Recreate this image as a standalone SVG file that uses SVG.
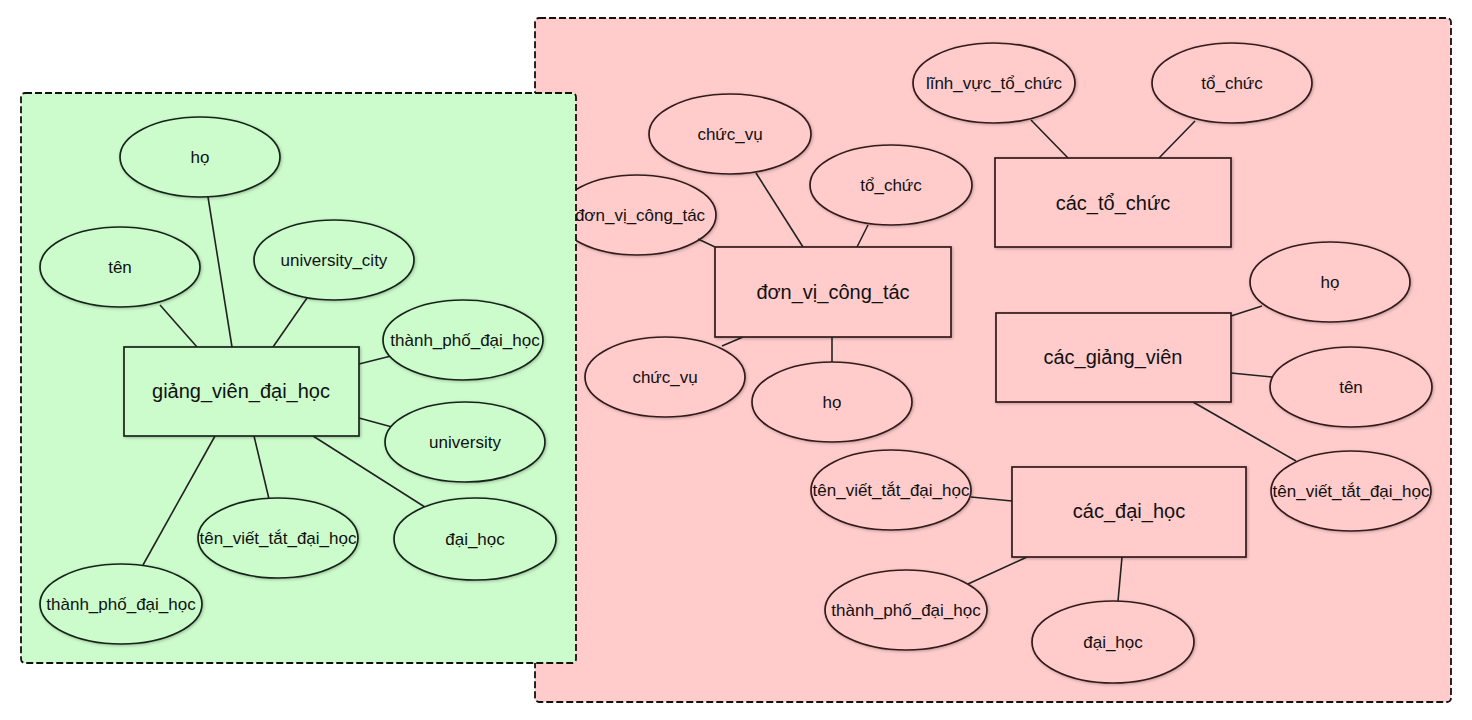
<svg xmlns="http://www.w3.org/2000/svg" width="1472" height="720" viewBox="0 0 1472 720">
<defs>
<filter id="sh" x="-20%" y="-20%" width="140%" height="140%">
<feDropShadow dx="1" dy="1" stdDeviation="1.5" flood-color="#000" flood-opacity="0.25"/>
</filter>
<style>
.panel{stroke:#111;stroke-width:1.8;stroke-dasharray:7 3}
.pg{fill:#ccfccb}
.pp{fill:#ffcbcb}
.g ellipse,.g rect{fill:#ccfccb;stroke:#16241a;stroke-width:1.7;filter:url(#sh)}
.p ellipse,.p rect{fill:#ffcbcb;stroke:#331a1a;stroke-width:1.7;filter:url(#sh)}
.t{font-family:"Liberation Sans",Arial,sans-serif;font-size:17px;fill:#111;text-anchor:middle;dominant-baseline:central}
.tb{font-family:"Liberation Sans",Arial,sans-serif;font-size:20px;fill:#111;text-anchor:middle;dominant-baseline:central}
#connectors line{stroke:#222;stroke-width:1.6}
</style>
</defs>
<rect width="1472" height="720" fill="#fff"/>
<g id="panel-pink"><rect class="panel pp" x="535" y="18" width="916" height="684" rx="4"/></g>
<g id="p-e-donvi" class="p"><ellipse cx="637" cy="215" rx="79" ry="40"/><text class="t" x="640" y="215">đơn_vị_công_tác</text></g>
<g id="panel-green"><rect class="panel pg" x="21" y="93" width="555" height="570" rx="4"/></g>
<g id="connectors">
<line x1="208" y1="197" x2="232" y2="347"/>
<line x1="160" y1="305" x2="197" y2="347"/>
<line x1="307" y1="298" x2="273" y2="347"/>
<line x1="359" y1="364" x2="391" y2="356"/>
<line x1="359" y1="418" x2="392" y2="427"/>
<line x1="313" y1="436" x2="428" y2="509"/>
<line x1="254" y1="436" x2="269" y2="499"/>
<line x1="215" y1="436" x2="143" y2="565"/>
<line x1="756" y1="173" x2="803" y2="247"/>
<line x1="868" y1="225" x2="857" y2="247"/>
<line x1="698" y1="239" x2="715" y2="247"/>
<line x1="743" y1="337" x2="722" y2="346"/>
<line x1="832" y1="337" x2="832" y2="362"/>
<line x1="1031" y1="120" x2="1068" y2="158"/>
<line x1="1195" y1="121" x2="1159" y2="158"/>
<line x1="1231" y1="316" x2="1262" y2="306"/>
<line x1="1231" y1="373" x2="1272" y2="377"/>
<line x1="1193" y1="402" x2="1296" y2="461"/>
<line x1="971" y1="497" x2="1012" y2="501"/>
<line x1="968" y1="584" x2="1027" y2="557"/>
<line x1="1122" y1="557" x2="1118" y2="601"/>
</g>
<g id="g-ho" class="g"><ellipse cx="200" cy="157" rx="80" ry="40"/><text class="t" x="200" y="157">họ</text></g>
<g id="g-ten" class="g"><ellipse cx="120" cy="267" rx="80" ry="40"/><text class="t" x="120" y="267">tên</text></g>
<g id="g-unicity" class="g"><ellipse cx="334" cy="260" rx="80" ry="40"/><text class="t" x="334" y="260">university_city</text></g>
<g id="g-thanhpho1" class="g"><ellipse cx="463" cy="340" rx="80" ry="40"/><text class="t" x="465" y="340">thành_phố_đại_học</text></g>
<g id="g-university" class="g"><ellipse cx="465" cy="442" rx="80" ry="40"/><text class="t" x="465" y="442">university</text></g>
<g id="g-daihoc" class="g"><ellipse cx="475" cy="539" rx="81" ry="41"/><text class="t" x="475" y="539">đại_học</text></g>
<g id="g-tenviettat" class="g"><ellipse cx="278" cy="538" rx="80" ry="40"/><text class="t" x="278" y="538">tên_viết_tắt_đại_học</text></g>
<g id="g-thanhpho2" class="g"><ellipse cx="121" cy="604" rx="81" ry="40"/><text class="t" x="121" y="604">thành_phố_đại_học</text></g>
<g id="g-giangvien" class="g"><rect x="124" y="347" width="235" height="89"/><text class="tb" x="241" y="391">giảng_viên_đại_học</text></g>
<g id="p-chucvu1" class="p"><ellipse cx="730" cy="134" rx="81" ry="40"/><text class="t" x="730" y="134">chức_vụ</text></g>
<g id="p-tochuc1" class="p"><ellipse cx="891" cy="185" rx="81" ry="40"/><text class="t" x="891" y="185">tổ_chức</text></g>
<g id="p-donvi" class="p"><rect x="715" y="247" width="236" height="90"/><text class="tb" x="833" y="292">đơn_vị_công_tác</text></g>
<g id="p-chucvu2" class="p"><ellipse cx="665" cy="377" rx="80" ry="40"/><text class="t" x="665" y="377">chức_vụ</text></g>
<g id="p-ho1" class="p"><ellipse cx="832" cy="402" rx="80" ry="40"/><text class="t" x="832" y="402">họ</text></g>
<g id="p-linhvuc" class="p"><ellipse cx="994" cy="83" rx="81" ry="40"/><text class="t" x="994" y="83">lĩnh_vực_tổ_chức</text></g>
<g id="p-tochuc2" class="p"><ellipse cx="1232" cy="83" rx="80" ry="40"/><text class="t" x="1232" y="83">tổ_chức</text></g>
<g id="p-cactochuc" class="p"><rect x="995" y="158" width="236" height="89"/><text class="tb" x="1113" y="203">các_tổ_chức</text></g>
<g id="p-ho2" class="p"><ellipse cx="1330" cy="282" rx="80" ry="40"/><text class="t" x="1330" y="282">họ</text></g>
<g id="p-ten" class="p"><ellipse cx="1351" cy="387" rx="81" ry="40"/><text class="t" x="1351" y="387">tên</text></g>
<g id="p-cacgiangvien" class="p"><rect x="996" y="313" width="235" height="89"/><text class="tb" x="1113" y="357">các_giảng_viên</text></g>
<g id="p-tenviettat2" class="p"><ellipse cx="1351" cy="491" rx="80" ry="40"/><text class="t" x="1351" y="491">tên_viết_tắt_đại_học</text></g>
<g id="p-tenviettat1" class="p"><ellipse cx="891" cy="490" rx="80" ry="40"/><text class="t" x="891" y="490">tên_viết_tắt_đại_học</text></g>
<g id="p-cacdaihoc" class="p"><rect x="1012" y="467" width="234" height="90"/><text class="tb" x="1129" y="511">các_đại_học</text></g>
<g id="p-thanhpho" class="p"><ellipse cx="906" cy="610" rx="81" ry="40"/><text class="t" x="906" y="610">thành_phố_đại_học</text></g>
<g id="p-daihoc" class="p"><ellipse cx="1113" cy="642" rx="81" ry="41"/><text class="t" x="1113" y="642">đại_học</text></g>
</svg>
